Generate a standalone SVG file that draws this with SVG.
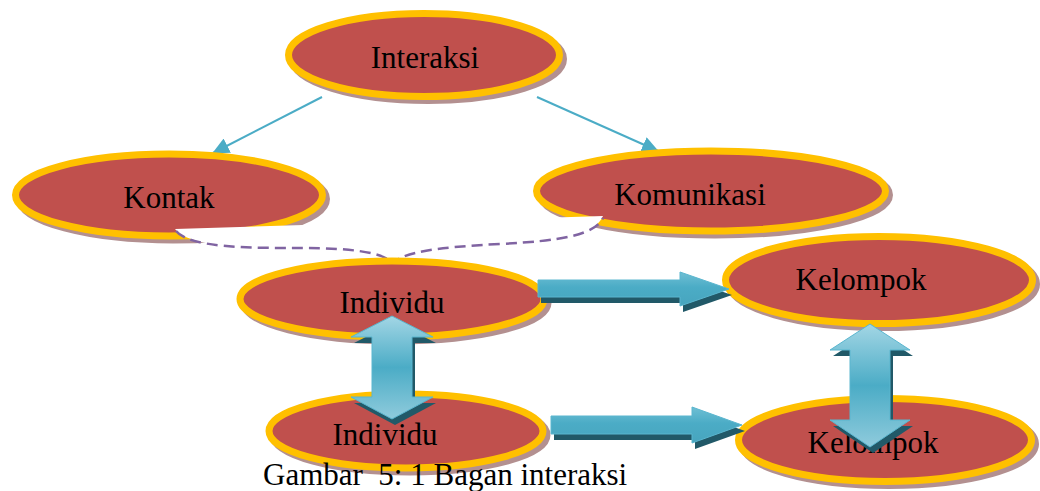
<svg xmlns="http://www.w3.org/2000/svg" width="1040" height="491" viewBox="0 0 1040 491">
<defs>
<style>
.shadow{fill:#b39090;stroke:#b39090;stroke-width:7}
.node{fill:#c0504d;stroke:#ffc000;stroke-width:7}
.lbl{font-family:"Liberation Serif","Times New Roman",serif;font-size:31px;fill:#000;text-anchor:middle}
.conn{stroke:#4bacc6;stroke-width:2;fill:none}
.ashadow{fill:#215968}
.harrow{fill:url(#gh);stroke:#5ab6cf;stroke-width:1}
.varrow{fill:url(#gv);stroke:#5ab6cf;stroke-width:1}
</style>
<linearGradient id="gh" x1="0" y1="0" x2="0" y2="1">
<stop offset="0" stop-color="#6fbfd4"/>
<stop offset="0.45" stop-color="#4bacc6"/>
<stop offset="1" stop-color="#47a5be"/>
</linearGradient>
<linearGradient id="gv" x1="0" y1="0" x2="0" y2="1">
<stop offset="0" stop-color="#a3d6e5"/>
<stop offset="0.5" stop-color="#4bacc6"/>
<stop offset="1" stop-color="#8fcbdc"/>
</linearGradient>
<marker id="ah" markerUnits="userSpaceOnUse" markerWidth="18" markerHeight="16" refX="16" refY="8" orient="auto" viewBox="0 0 18 16">
<path d="M0,0 L17,8 L0,16 z" fill="#4bacc6"/>
</marker>
</defs>

<g id="connectors">
<line class="conn" x1="322" y1="97" x2="213" y2="153" marker-end="url(#ah)"/>
<line class="conn" x1="537" y1="97" x2="658" y2="151" marker-end="url(#ah)"/>
</g>

<g id="node-interaksi">
<ellipse class="shadow" cx="428" cy="59" rx="135.5" ry="41.5"/>
<ellipse class="node" cx="424" cy="55" rx="135.5" ry="41.5"/>
<text class="lbl" x="425" y="68">Interaksi</text>
</g>

<g id="node-kontak">
<ellipse class="shadow" cx="173" cy="199" rx="153.5" ry="41"/>
<ellipse class="node" cx="169" cy="195" rx="153.5" ry="41"/>
<text class="lbl" x="169" y="208">Kontak</text>
</g>

<g id="node-komunikasi">
<ellipse class="shadow" cx="715" cy="195" rx="174.5" ry="40"/>
<ellipse class="node" cx="711" cy="191" rx="174.5" ry="40"/>
<text class="lbl" x="690" y="205">Komunikasi</text>
</g>

<g id="connector-dashed">
<path d="M175,229 L603,216 C595,235 560,241 500,244 C440,247 400,252 393,264 C385,252 350,248 300,248 C250,248 190,248 175,229 z" fill="#fff" stroke="none"/>
<path d="M176,231 C190,248 250,248 300,248 C350,248 385,252 393,264 C400,252 440,247 500,244 C560,241 595,235 603,218" fill="none" stroke="#8064a2" stroke-width="2.5" stroke-dasharray="11,6"/>
</g>

<g id="node-individu-1">
<ellipse class="shadow" cx="396" cy="303" rx="152" ry="38"/>
<ellipse class="node" cx="392" cy="299" rx="152" ry="38"/>
<text class="lbl" x="392" y="313">Individu</text>
</g>

<g id="node-individu-2">
<ellipse class="shadow" cx="410" cy="435" rx="137" ry="37"/>
<ellipse class="node" cx="406" cy="431" rx="137" ry="37"/>
<text class="lbl" x="385" y="445">Individu</text>
</g>

<g id="node-kelompok-1">
<ellipse class="shadow" cx="883" cy="284" rx="153.5" ry="43.5"/>
<ellipse class="node" cx="879" cy="280" rx="153.5" ry="43.5"/>
<text class="lbl" x="861" y="290">Kelompok</text>
</g>

<g id="node-kelompok-2">
<ellipse class="shadow" cx="889" cy="444" rx="146.5" ry="41.5"/>
<ellipse class="node" cx="885" cy="440" rx="146.5" ry="41.5"/>
<text class="lbl" x="873" y="453">Kelompok</text>
</g>

<g id="block-arrows">
<g transform="translate(3,6)"><path class="ashadow" d="M538,280 L680,280 L680,272 L729,289 L680,306 L680,297 L538,297 z"/></g>
<path class="harrow" d="M538,280 L680,280 L680,272 L729,289 L680,306 L680,297 L538,297 z"/>

<g transform="translate(3,6)"><path class="ashadow" d="M551,416 L692,416 L692,407 L742,425 L692,443 L692,434 L551,434 z"/></g>
<path class="harrow" d="M551,416 L692,416 L692,407 L742,425 L692,443 L692,434 L551,434 z"/>

<g transform="translate(3,6)"><path class="ashadow" d="M392,316 L433,337 L412,337 L412,397 L433,397 L392,419 L351,397 L372,397 L372,337 L351,337 z"/></g>
<path class="varrow" d="M392,316 L433,337 L412,337 L412,397 L433,397 L392,419 L351,397 L372,397 L372,337 L351,337 z"/>

<g transform="translate(3,6)"><path class="ashadow" d="M870,324 L910,350 L890,350 L890,420 L910,420 L870,447 L830,420 L850,420 L850,350 L830,350 z"/></g>
<path class="varrow" d="M870,324 L910,350 L890,350 L890,420 L910,420 L870,447 L830,420 L850,420 L850,350 L830,350 z"/>
</g>

<text id="caption" x="263" y="485" style="font-family:'Liberation Serif','Times New Roman',serif;font-size:31px;fill:#000;white-space:pre">Gambar  5: 1 Bagan interaksi</text>
</svg>
